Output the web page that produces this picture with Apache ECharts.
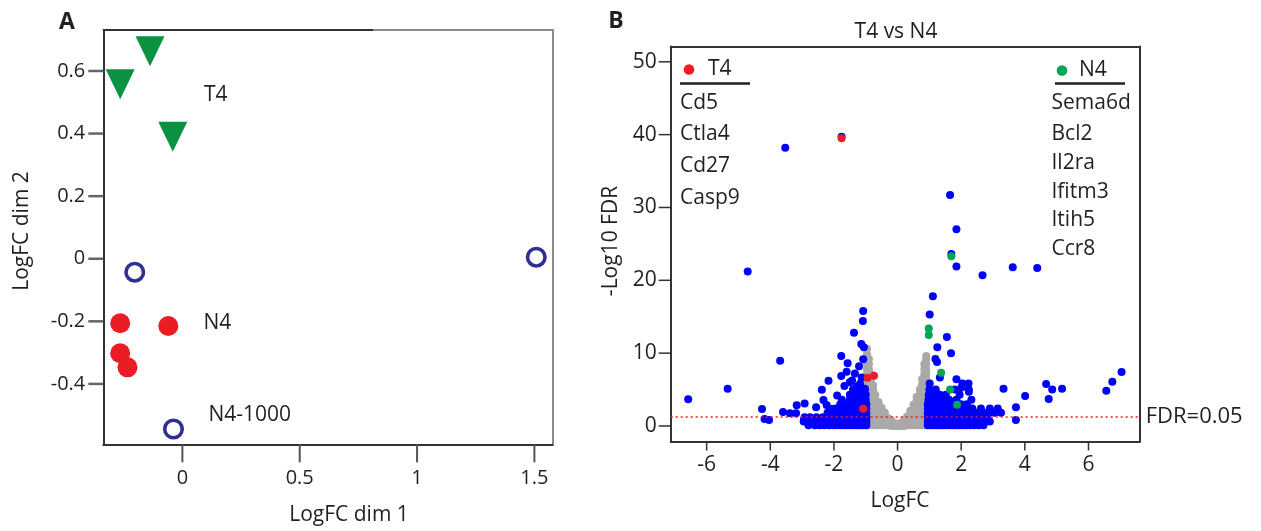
<!DOCTYPE html>
<html lang="en">
<head>
<meta charset="UTF-8">
<title>MDS plot and volcano plot</title>
<style>
  html, body { margin: 0; padding: 0; background: #fff; }
  #main { width: 1261px; height: 531px; }
</style>
</head>
<body>
<div id="main"></div>
<script src="https://cdn.jsdelivr.net/npm/echarts@6/dist/echarts.min.js"></script>
<script>
// ---------- panel A: MDS plot ----------
const mdsT4 = [[-0.138, 0.663], [-0.265, 0.558], [-0.041, 0.39]];
const mdsN4 = [[-0.265, -0.206], [-0.060, -0.215], [-0.265, -0.302], [-0.234, -0.347]];
const mdsN41000 = [[-0.203, -0.043], [1.508, 0.005], [-0.038, -0.544]];
const mdsLabels = [[0.092, 0.523, 'T4'], [0.09, -0.204, 'N4'], [0.111, -0.499, 'N4-1000']];
const mdsXTicks = [0, 0.5, 1, 1.5];
const mdsYTicks = [-0.4, -0.2, 0, 0.2, 0.4, 0.6];

// ---------- panel B: volcano plot ----------
// non-significant genes, by column: [logFC, [-log10 FDR ...]]
const grayColumns = [
  [-0.96, [0.1, 0.8, 1.5, 2.2, 2.9, 3.6, 4.3, 5.0, 5.7, 6.4, 7.1, 7.8, 8.5, 9.2, 9.9, 10.6]],
  [-0.90, [0.1, 0.8, 1.5, 2.2, 2.9, 3.6, 4.3, 5.0, 5.7, 6.4, 7.1, 7.8, 8.5, 9.2]],
  [-0.84, [0.1, 0.8, 1.5, 2.2, 2.9, 3.6, 4.3, 5.0, 5.7, 6.4, 7.1]],
  [-0.77, [0.1, 0.8, 1.5, 2.2, 2.9, 3.6, 4.3, 5.0, 5.6]],
  [-0.70, [0.1, 0.8, 1.5, 2.2, 2.9, 3.6, 4.3]],
  [-0.60, [0.1, 0.8, 1.5, 2.2, 2.9, 3.3]],
  [-0.50, [0.1, 0.8, 1.5, 2.1, 2.5]],
  [-0.40, [0.1, 0.7, 1.3, 1.8]],
  [-0.30, [0.1, 0.6, 1.1]],
  [-0.20, [0.0, 0.5, 0.8]],
  [-0.10, [0.0, 0.4]],
  [0.00, [0.0, 0.2]],
  [0.10, [0.0, 0.4]],
  [0.20, [0.0, 0.5, 0.8]],
  [0.30, [0.1, 0.7, 1.3]],
  [0.40, [0.1, 0.7, 1.4, 2.1]],
  [0.50, [0.1, 0.8, 1.5, 2.2, 2.9]],
  [0.60, [0.1, 0.8, 1.5, 2.2, 2.9, 3.6, 4.0]],
  [0.70, [0.1, 0.8, 1.5, 2.2, 2.9, 3.6, 4.3, 5.0]],
  [0.77, [0.1, 0.8, 1.5, 2.2, 2.9, 3.6, 4.3, 5.0, 5.7, 6.4]],
  [0.84, [0.1, 0.8, 1.5, 2.2, 2.9, 3.6, 4.3, 5.0, 5.7, 6.4, 7.1, 7.8, 8.5]],
  [0.90, [0.1, 0.8, 1.5, 2.2, 2.9, 3.6, 4.3, 5.0, 5.7, 6.4, 7.1, 7.8, 8.5, 9.2, 9.6]]
];
// dense significant genes, by row: [-log10 FDR, [logFC ...]]
const blueRows = [
  [0.1, [-0.98, -1.08, -1.18, -1.28, -1.38, -1.48, -1.58, -1.68, -1.78, -1.9, -2.02, -2.15, -2.3, -2.45, -2.6, -2.8,
         0.95, 1.05, 1.15, 1.25, 1.35, 1.45, 1.55, 1.65, 1.75, 1.85, 1.95, 2.05, 2.15, 2.27, 2.4, 2.55, 2.7]],
  [0.6, [-0.98, -1.1, -1.22, -1.34, -1.46, -1.58, -1.7, -1.82, -1.95, -2.1, -2.25, -2.42, -2.6, -2.78, -2.95,
         0.95, 1.07, 1.19, 1.31, 1.43, 1.55, 1.67, 1.79, 1.91, 2.03, 2.15, 2.28, 2.42, 2.58, 2.75, 2.9]],
  [1.2, [-0.98, -1.1, -1.22, -1.34, -1.46, -1.58, -1.7, -1.84, -1.98, -2.14, -2.35, -2.55, -2.75, -2.92,
         0.95, 1.07, 1.19, 1.31, 1.43, 1.55, 1.67, 1.79, 1.91, 2.03, 2.16, 2.3, 2.46, 2.62, 2.8]],
  [1.8, [-0.98, -1.1, -1.22, -1.34, -1.46, -1.58, -1.72, -1.86, -2.02, -2.2,
         0.95, 1.07, 1.19, 1.31, 1.43, 1.55, 1.67, 1.79, 1.92, 2.06, 2.2, 2.36, 2.52, 2.7, 2.88, 3.05, 3.25]],
  [2.4, [-0.98, -1.1, -1.22, -1.36, -1.5, -1.64, -1.8, -1.95,
         0.95, 1.07, 1.19, 1.31, 1.43, 1.56, 1.7, 1.84, 1.98, 2.14, 2.35, 2.62, 2.9, 3.15]],
  [3.0, [-0.98, -1.12, -1.26, -1.42, -1.6, -1.8,
         0.95, 1.08, 1.22, 1.36, 1.5, 1.66, 1.82, 2.0, 2.18]],
  [3.6, [-1.0, -1.15, -1.32, -1.5, -1.75,
         0.97, 1.1, 1.25, 1.42, 1.62, 1.85, 2.32]],
  [4.3, [-1.0, -1.12, -1.3, -1.5,
         0.98, 1.15, 1.33, 1.52, 1.95]],
  [5.0, [-1.03, -1.2, -1.4,
         1.0, 1.2, 1.8, 2.24]]
];
// scattered significant genes [logFC, -log10 FDR]
const blueScatter = [
  [-6.58, 3.66], [-5.34, 5.12], [-4.71, 21.2], [-3.53, 38.2], [-1.76, 39.7], [-3.69, 8.96],
  [-4.26, 2.33], [-4.18, 0.96], [-4.04, 0.82], [-3.6, 1.92], [-3.38, 1.74], [-3.19, 1.74],
  [-3.17, 2.84], [-2.92, 3.07], [-2.56, 2.57], [-2.94, 0.9], [-2.7, 0.8], [-2.43, 0.6],
  [-2.17, 6.22], [-2.38, 4.98], [-2.33, 3.56], [-2.23, 2.87], [-2.07, 2.33], [-1.77, 9.6],
  [-1.57, 8.6], [-1.37, 12.8], [-1.08, 15.8], [-1.09, 14.4], [-1.14, 11.25], [-1.06, 10.8],
  [-1.08, 9.15], [-1.21, 8.2], [-1.6, 7.45], [-1.34, 7.2], [-1.13, 6.67], [-1.77, 6.86],
  [-1.67, 5.49], [-1.43, 6.26], [-1.18, 5.8], [-1.39, 4.7], [-1.13, 4.94], [-1.03, 5.1],
  [-1.5, 6.0], [-1.28, 5.4], [-1.9, 4.2],
  [1.11, 17.8], [1.01, 15.3], [1.55, 12.2], [1.25, 10.8], [1.68, 10.0], [1.19, 9.19],
  [1.24, 8.8], [1.33, 6.67], [1.01, 5.85], [1.85, 6.4], [2.04, 5.85], [2.23, 5.85],
  [2.01, 5.3], [2.24, 4.7], [1.2, 4.6], [1.65, 31.7], [1.85, 27.0], [1.69, 23.6],
  [1.85, 21.9], [2.67, 20.7], [3.62, 21.8], [4.39, 21.7], [3.33, 5.1], [4.01, 4.1],
  [4.67, 5.76], [4.86, 5.0], [5.17, 5.1], [4.75, 3.7], [3.72, 2.56], [3.72, 0.82],
  [6.56, 4.85], [6.75, 6.08], [7.04, 7.4]
];
const t4Genes = [[-1.76, 39.5], [-0.94, 6.63], [-0.74, 6.9], [-1.08, 2.38]];
const n4Genes = [[1.69, 23.3], [0.98, 13.4], [0.98, 12.5], [1.37, 7.3], [1.65, 5.0], [1.87, 2.9]];
const t4Names = ['Cd5', 'Ctla4', 'Cd27', 'Casp9'];
const n4Names = ['Sema6d', 'Bcl2', 'Il2ra', 'Ifitm3', 'Itih5', 'Ccr8'];
const fdrCut = 1.3;
const volXTicks = [-6, -4, -2, 0, 2, 4, 6];
const volYTicks = [0, 10, 20, 30, 40, 50];

const mdsX = [-0.337, 1.578], mdsY = [-0.593, 0.731];
const volX = [-7.13, 7.61], volY = [-2.13, 52.1];

const grayData = [];
grayColumns.forEach(c => c[1].forEach(y => grayData.push([c[0], y])));
const blueData = blueScatter.slice();
blueRows.forEach(r => r[1].forEach(x => blueData.push([x, r[0]])));

const FONT = '"Open Sans", "Noto Sans", sans-serif';
const INK = '#231f20';

function txt(x, y, text, size, extra) {
  return {
    type: 'text',
    style: Object.assign({ x: x, y: y, text: text, font: size + 'px ' + FONT, fill: INK,
      textAlign: 'left', textVerticalAlign: 'middle' }, extra || {})
  };
}

const graphics = [
  txt(67, 22, 'A', 23, { font: 'bold 23px ' + FONT, textAlign: 'center' }),
  txt(616, 21, 'B', 23, { font: 'bold 23px ' + FONT, textAlign: 'center' }),
  txt(896, 32, 'T4 vs N4', 21, { textAlign: 'center' }),
  txt(349, 515, 'LogFC dim 1', 21, { textAlign: 'center' }),
  txt(900, 501, 'LogFC', 21, { textAlign: 'center' }),
  { type: 'text', x: 22, y: 231, rotation: Math.PI / 2,
    style: { x: 0, y: 0, text: 'LogFC dim 2', font: '21px ' + FONT, fill: INK, textAlign: 'center', textVerticalAlign: 'middle' } },
  { type: 'text', x: 611, y: 241, rotation: Math.PI / 2,
    style: { x: 0, y: 0, text: '-Log10 FDR', font: '21px ' + FONT, fill: INK, textAlign: 'center', textVerticalAlign: 'middle' } },
  // darker left part of panel A top border
  { type: 'line', shape: { x1: 103, y1: 30, x2: 373, y2: 30 }, style: { stroke: '#333', lineWidth: 2 }, z: 10 },
  // legend T4
  { type: 'circle', shape: { cx: 689, cy: 69.5, r: 5.3 }, style: { fill: '#ee1c24' }, z: 10 },
  txt(708, 69.5, 'T4', 21),
  { type: 'line', shape: { x1: 680, y1: 83.5, x2: 750, y2: 83.5 }, style: { stroke: INK, lineWidth: 2.5 }, z: 10 },
  // legend N4
  { type: 'circle', shape: { cx: 1062, cy: 70.5, r: 5.3 }, style: { fill: '#00a651' }, z: 10 },
  txt(1079, 70.5, 'N4', 21),
  { type: 'line', shape: { x1: 1055, y1: 83.5, x2: 1125, y2: 83.5 }, style: { stroke: INK, lineWidth: 2.5 }, z: 10 }
];
const t4Y = [103, 134.3, 166, 198.3];
t4Names.forEach((n, i) => graphics.push(txt(680, t4Y[i], n, 21)));
const n4Y = [103.3, 134.3, 163.3, 191.7, 220, 249.3];
n4Names.forEach((n, i) => graphics.push(txt(1051.5, n4Y[i], n, 21)));

function frameAxis(extra, color) {
  return Object.assign({
    type: 'value', axisLabel: { show: false }, axisTick: { show: false }, splitLine: { show: false },
    axisLine: { onZero: false, lineStyle: { color: color, width: 2 } }
  }, extra);
}

function mainAxis(extra, ticks, fontSize, margin) {
  return Object.assign({
    type: 'value', splitLine: { show: false },
    axisLine: { onZero: false, lineStyle: { color: '#333', width: 2 } },
    axisTick: { show: false },
    axisLabel: { customValues: ticks, fontSize: fontSize, color: INK, margin: margin }
  }, extra);
}

const chart = echarts.init(document.getElementById('main'));
chart.setOption({
  animation: false,
  textStyle: { fontFamily: FONT, color: INK },
  grid: [
    { left: 103.3, top: 30, width: 449.4, height: 414.3 },
    { left: 670.7, top: 46.5, width: 469, height: 395 }
  ],
  xAxis: [
    mainAxis({ gridIndex: 0, min: mdsX[0], max: mdsX[1] }, mdsXTicks, 20, 24),
    frameAxis({ gridIndex: 0, position: 'top', min: mdsX[0], max: mdsX[1] }, '#8a8a8a'),
    mainAxis({ gridIndex: 1, min: volX[0], max: volX[1] }, volXTicks, 21, 13),
    frameAxis({ gridIndex: 1, position: 'top', min: volX[0], max: volX[1] }, '#333')
  ],
  yAxis: [
    mainAxis({ gridIndex: 0, min: mdsY[0], max: mdsY[1] }, mdsYTicks, 20, 18),
    frameAxis({ gridIndex: 0, position: 'right', min: mdsY[0], max: mdsY[1] }, '#8a8a8a'),
    mainAxis({ gridIndex: 1, min: volY[0], max: volY[1] }, volYTicks, 21, 14),
    frameAxis({ gridIndex: 1, position: 'right', min: volY[0], max: volY[1] }, '#333')
  ],
  series: [
    { type: 'scatter', xAxisIndex: 0, yAxisIndex: 0, data: mdsT4, symbol: 'triangle',
      symbolRotate: 180, symbolSize: [29, 30], itemStyle: { color: '#0a9142', opacity: 1 } },
    { type: 'scatter', xAxisIndex: 0, yAxisIndex: 0, data: mdsN4, symbolSize: 20,
      itemStyle: { color: '#ec1c24', opacity: 1 } },
    { type: 'scatter', xAxisIndex: 0, yAxisIndex: 0, data: mdsN41000, symbolSize: 17.5,
      itemStyle: { color: '#fff', borderColor: '#2e3192', borderWidth: 3.6, opacity: 1 } },
    { type: 'scatter', xAxisIndex: 0, yAxisIndex: 0, data: mdsLabels, symbolSize: 0, silent: true,
      itemStyle: { opacity: 1 },
      label: { show: true, position: 'right', distance: 0, fontSize: 21, color: INK,
        formatter: p => p.data[2] } },

    { type: 'scatter', xAxisIndex: 2, yAxisIndex: 2, data: grayData, symbolSize: 8,
      itemStyle: { color: '#a9a9a9', opacity: 1 },
      markLine: {
        silent: true, symbol: 'none', animation: false,
        data: [{ yAxis: fdrCut }],
        lineStyle: { color: '#ee1c24', type: [2, 3], width: 1.5 },
        label: { position: 'end', formatter: 'FDR=0.05', fontSize: 22, color: INK, distance: 6 }
      } },
    { type: 'scatter', xAxisIndex: 2, yAxisIndex: 2, data: blueData, symbolSize: 8,
      itemStyle: { color: '#0000ff', opacity: 1 } },
    { type: 'scatter', xAxisIndex: 2, yAxisIndex: 2, data: t4Genes, symbolSize: 8,
      itemStyle: { color: '#ee1c24', opacity: 1 } },
    { type: 'scatter', xAxisIndex: 2, yAxisIndex: 2, data: n4Genes, symbolSize: 8,
      itemStyle: { color: '#00a651', opacity: 1 } }
  ],
  graphic: graphics
});

// tick marks: each position is converted through its own axis, drawn outward from the frame
const tickLines = [];
function px(finder, v) {
  const r = chart.convertToPixel(finder, v);
  return Array.isArray(r) ? r[0] : r;
}
function addTicks(xi, yi, values, dir, len, color, width, edge) {
  values.forEach(v => {
    const x = dir === 'x' ? px({ xAxisIndex: xi }, v) : px({ xAxisIndex: xi }, edge);
    const y = dir === 'x' ? px({ yAxisIndex: yi }, edge) : px({ yAxisIndex: yi }, v);
    if (!isFinite(x) || !isFinite(y)) return;
    tickLines.push({
      type: 'line', z: 10,
      shape: dir === 'x'
        ? { x1: x, y1: y, x2: x, y2: y + len }
        : { x1: x - len, y1: y, x2: x, y2: y },
      style: { stroke: color, lineWidth: width }
    });
  });
}
addTicks(0, 0, mdsXTicks, 'x', 18, '#555', 2, mdsY[0]);
addTicks(0, 0, mdsYTicks, 'y', 15, '#666', 2.5, mdsX[0]);
addTicks(2, 2, volXTicks, 'x', 9, '#333', 1.5, volY[0]);
addTicks(2, 2, volYTicks, 'y', 12, '#333', 1.5, volX[0]);
chart.setOption({ graphic: { elements: graphics.concat(tickLines) } });
</script>
</body>
</html>
